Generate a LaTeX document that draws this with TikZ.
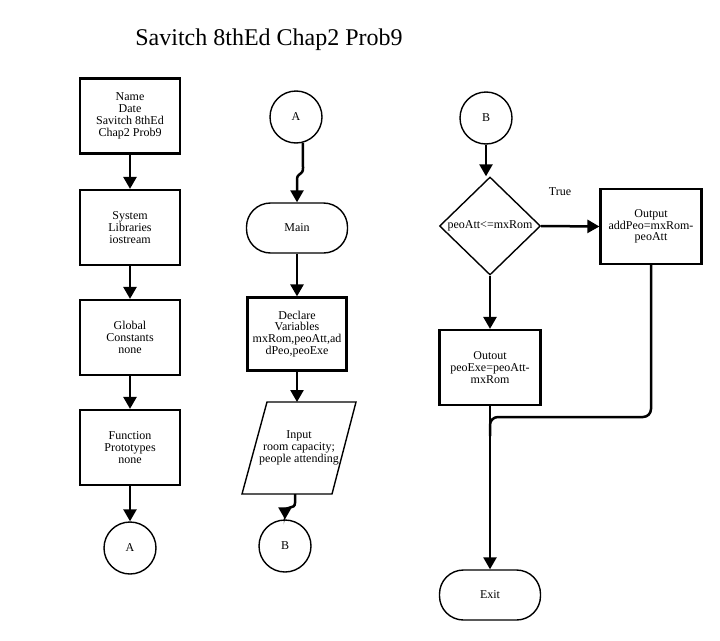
\documentclass[tikz,border=0pt]{standalone}
\usepackage{fontspec}
\setmainfont{Liberation Serif}
\usetikzlibrary{arrows.meta,shapes.geometric}
\begin{document}
\begin{tikzpicture}[x=1pt,y=-1pt,
  every node/.style={font=\fontsize{12}{11.8}\selectfont, align=center},
  procbox/.style={draw, line width=2.2pt, minimum width=100pt, minimum height=75pt, inner sep=0pt},
  conn/.style={draw, circle, line width=1.4pt, minimum size=52pt, inner sep=0pt},
  term/.style={draw, rounded corners=24pt, line width=1.4pt, minimum width=101pt, minimum height=50pt, inner sep=0pt},
  decis/.style={draw, diamond, line width=1.4pt, minimum width=101pt, minimum height=98pt, inner sep=0pt},
  flow/.style={line width=2.5pt, -{Triangle[length=12pt,width=13pt]}},
  plain/.style={line width=2.5pt}
]
\useasboundingbox (0,0) rectangle (720,640);
\fill[white] (0,0) rectangle (720,640);

% title
\node[font=\fontsize{24}{26}\selectfont] (title) at (269,40) {Savitch 8thEd Chap2 Prob9};

% column 1
\node[procbox] (n1) at (130,116) {Name\\Date\\Savitch 8thEd\\Chap2 Prob9};
\node[procbox] (n2) at (130,227.5) {System\\Libraries\\iostream};
\node[procbox] (n3) at (130,337.5) {Global\\Constants\\none};
\node[procbox] (n4) at (130,447.5) {Function\\Prototypes\\none};
\node[conn] (a1) at (130,548) {A};
\draw[flow] (n1) -- (n2);
\draw[flow] (n2) -- (n3);
\draw[flow] (n3) -- (n4);
\draw[flow] (n4.south) -- (a1.north);

% column 2
\node[conn] (a2) at (296,117) {A};
\node[term] (mainn) at (297,228) {Main};
\node[procbox, minimum width=99pt, minimum height=73pt] (decl) at (297,334) {Declare\\Variables\\mxRom,peoAtt,ad\\dPeo,peoExe};
\coordinate (pTL) at (267,402);
\coordinate (pTR) at (356,402);
\coordinate (pBR) at (332,494);
\coordinate (pBL) at (242,494);
\draw[line width=1.4pt] (pTL) -- (pTR) -- (pBR) -- (pBL) -- cycle;
\node (inp) at (299,448) {Input\\room capacity;\\people attending};
\coordinate (inTop) at (297,402);
\coordinate (inBot) at (295,494);
\node[conn] (b2) at (285,546) {B};
\coordinate (w1) at (303,168);
\coordinate (w2) at (297,180);
\coordinate (w3) at (295,503);
\coordinate (w4) at (285,512);
\draw[flow] (a2.-75) -- (w1) .. controls (303,176) and (297,172) .. (w2) -- (mainn.north);
\draw[flow] (mainn.south) -- (decl.north);
\draw[flow] (decl.south) -- (inTop);
\draw[flow] (inBot) -- (w3) .. controls (295,510) and (285,505) .. (w4) -- (b2.north);

% column 3
\node[conn] (b3) at (486,118) {B};
\node[decis] (dec) at (490,226) {};
\node (dectxt) at (dec.center) {peoAtt<=mxRom};
\node[procbox, minimum width=101pt] (out1) at (651,226.5) {Output\\addPeo=mxRom-\\peoAtt};
\node[procbox, minimum width=101pt] (out2) at (490,367.5) {Outout\\peoExe=peoAtt-\\mxRom};
\node[term] (exitn) at (490,595) {Exit};
\node (truelbl) at (560,192) {True};
\coordinate (j1) at (651,417);
\coordinate (j2) at (490,417);
\coordinate (j3) at (490,436);
\draw[flow] (b3.south) -- (b3.south |- dec.north);
\draw[flow] (dec.east) -- (out1.west);
\draw[flow] (dec.south) -- (out2.north);
\draw[flow] (out2.south) -- (exitn.north);
\draw[plain, rounded corners=8pt] (out1.south) -- (j1) -- (j2) -- (j3);
\end{tikzpicture}
\end{document}
